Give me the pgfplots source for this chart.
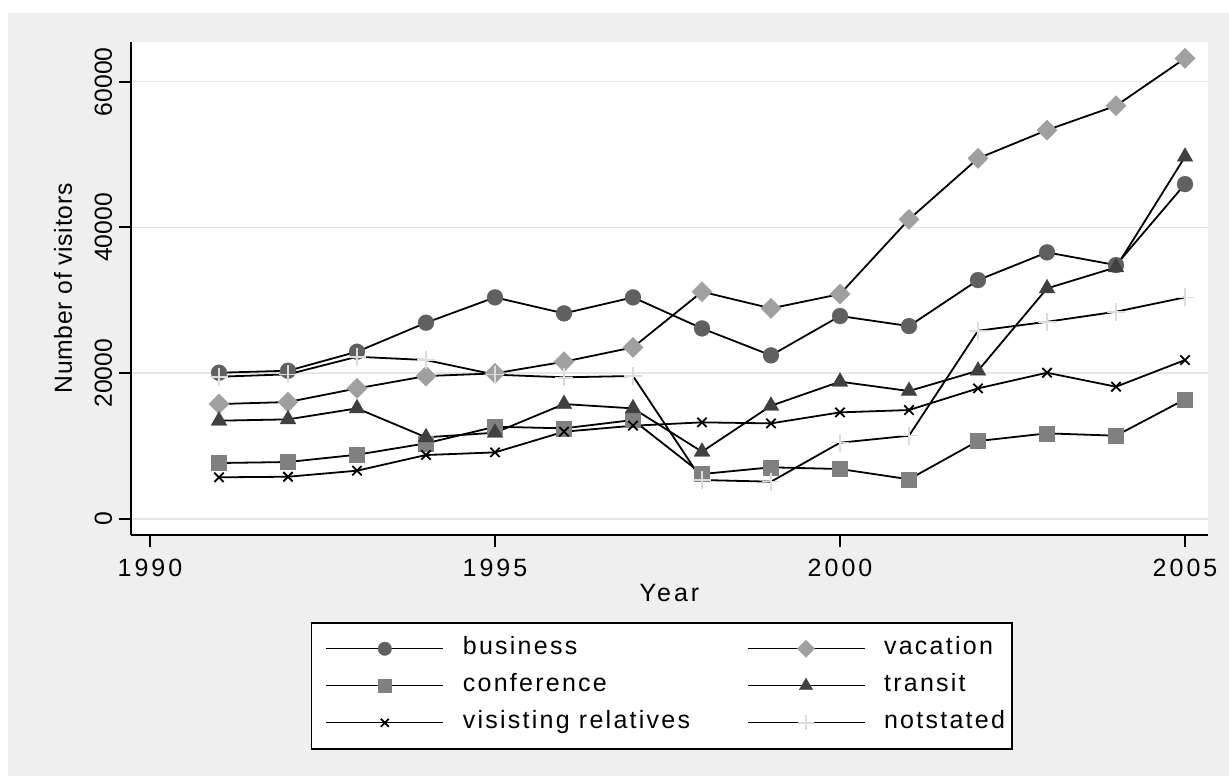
\documentclass[border=0pt]{standalone}
\usepackage{pgfplots}
\usepackage{pgfplotstable}
\pgfplotsset{compat=1.18}
\usepackage{fontspec}
\setmainfont{Liberation Sans}
\newfontfamily\spacedfont[LetterSpace=12]{Liberation Sans}
\newfontfamily\legfont[LetterSpace=9]{Liberation Sans}
\newfontfamily\ylabfont[LetterSpace=3]{Liberation Sans}
\definecolor{bgray}{HTML}{EFEFEF}
\definecolor{gridgray}{HTML}{E6E6E6}
\definecolor{cbus}{HTML}{606060}
\definecolor{cvac}{HTML}{A0A0A0}
\definecolor{cconf}{HTML}{808080}
\definecolor{ctrans}{HTML}{404040}
\definecolor{cnot}{HTML}{DCDCDC}

\pgfplotstableread{
year business vacation conference transit visiting notstated
1991 20070 15770 7680 13490 5720 19520
1992 20340 16050 7820 13670 5800 19850
1993 22950 17920 8820 15180 6630 22260
1994 26930 19610 10380 11210 8780 21810
1995 30410 19980 12660 11840 9140 19800
1996 28210 21580 12440 15770 11980 19440
1997 30410 23550 13580 15180 12800 19620
1998 26150 31180 6170 9230 13260 5350
1999 22450 28900 7090 15540 13120 5120
2000 27850 30860 6860 18840 14630 10470
2001 26470 41110 5450 17560 14950 11430
2002 32780 49480 10700 20340 17920 25830
2003 36580 53360 11750 31640 20070 27060
2004 34840 56700 11430 34530 18150 28440
2005 45950 63200 16420 49700 21810 30410
}\datatable

\begin{document}
\begin{tikzpicture}
\fill[white] (-65.5bp,-120.5bp) rectangle (549bp,267.5bp);
\fill[bgray] (-61.5bp,-120.5bp) rectangle (549bp,261bp);
\begin{axis}[
  at={(0,0)}, anchor=south west,
  scale only axis, width=538.5bp, height=246.5bp,
  xmin=1989.7246, xmax=2005.3333, ymin=-2195, ymax=65447,
  scaled y ticks=false, scaled x ticks=false,
  axis x line*=bottom, axis y line*=left,
  axis line style={line width=1bp, -},
  axis background/.style={fill=white},
  tick align=outside,
  major tick length=6bp,
  tick style={line width=1bp, black},
  xtick={1990,1995,2000,2005}, xticklabels={1990,1995,2000,2005},
  ytick={0,20000,40000,60000}, yticklabels={0,20000,40000,60000},
  ymajorgrids, major grid style={gridgray, line width=0.75bp},
  xticklabel style={font=\fontsize{12.5bp}{15bp}\spacedfont, yshift=-2.5bp},
  yticklabel style={font=\fontsize{12.35bp}{15bp}\selectfont, rotate=90, anchor=south},
  xlabel={Year}, ylabel={Number of visitors},
  every axis x label/.style={at={(axis description cs:0.5,-0.1176)}, anchor=center, font=\fontsize{12.5bp}{15bp}\spacedfont},
  every axis y label/.style={at={(axis description cs:-0.0631,0.5)}, rotate=90, anchor=center, font=\fontsize{12.35bp}{15bp}\ylabfont},
  legend columns=2,
  legend cell align=left,
  legend image code/.code={\draw[#1, line width=0.6bp, mark repeat=2, mark phase=2, every mark/.append style={scale=0.85}] plot coordinates {(0bp,0bp) (29.25bp,0bp) (58.5bp,0bp)};},
  legend style={at={(0.1671,-0.1765)}, anchor=north west, draw=black, line width=0.75bp, fill=white,
    inner xsep=7bp, inner ysep=7bp, row sep=6.5bp,
    nodes={inner sep=0pt, text height=9bp, text depth=3bp},
    font=\fontsize{12.5bp}{15bp}\legfont,
    /tikz/every odd column/.append style={column sep=9.5bp}},
]
\addplot[black, line width=0.9bp, mark=*, mark size=4bp, mark options={fill=cbus, draw=cbus, line width=0.1pt}] table[x=year,y=business]{\datatable};
\addlegendentry{\makebox[142bp][l]{business}}
\addplot[black, line width=0.9bp, mark=square*, mark size=3.6bp, mark options={rotate=45, fill=cvac, draw=cvac, line width=0.1pt}] table[x=year,y=vacation]{\datatable};
\addlegendentry{\makebox[57bp][l]{vacation}}
\addplot[black, line width=0.9bp, mark=square*, mark size=3.75bp, mark options={fill=cconf, draw=cconf, line width=0.1pt}] table[x=year,y=conference]{\datatable};
\addlegendentry{\makebox[142bp][l]{conference}}
\addplot[black, line width=0.9bp, mark=triangle*, mark size=4.6bp, mark options={fill=ctrans, draw=ctrans, line width=0.1pt}] table[x=year,y=transit]{\datatable};
\addlegendentry{\makebox[57bp][l]{transit}}
\addplot[black, line width=0.9bp, mark=x, mark size=3.3bp, mark options={draw=black, line width=0.9bp}] table[x=year,y=visiting]{\datatable};
\addlegendentry{\makebox[142bp][l]{visisting relatives}}
\addplot[black, line width=0.9bp, mark=+, mark size=4.5bp, mark options={draw=cnot, line width=0.8bp}] table[x=year,y=notstated]{\datatable};
\addlegendentry{\makebox[57bp][l]{notstated}}
\end{axis}
\pgfresetboundingbox
\path (-65.5bp,-120.5bp) rectangle (549bp,267.5bp);
\end{tikzpicture}
\end{document}
